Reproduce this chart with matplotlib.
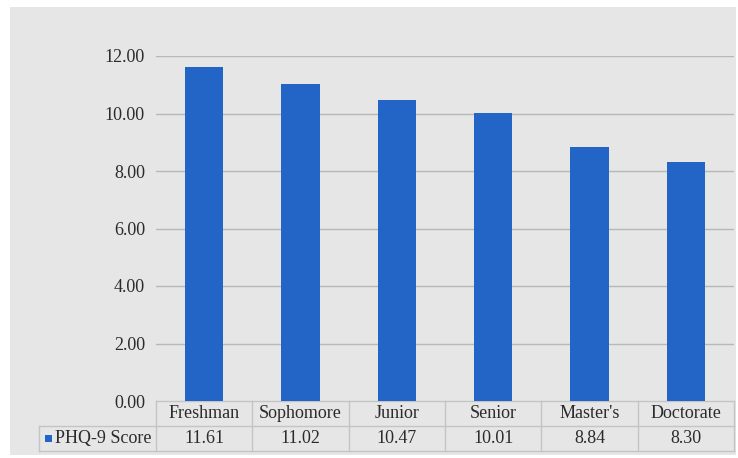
import matplotlib.pyplot as plt
from matplotlib.patches import Rectangle
from matplotlib.transforms import blended_transform_factory

levels = ["Freshman", "Sophomore", "Junior", "Senior", "Master's", "Doctorate"]
phq9 = [11.61, 11.02, 10.47, 10.01, 8.84, 8.30]
series_name = "PHQ-9 Score"
yticks = [0, 2, 4, 6, 8, 10, 12]

W, H = 738, 458
BLUE = "#2265c6"
GRID = "#b8b8b8"
LINE = "#c4c4c4"
TXT = "#2b2b2b"

plt.rcParams["font.family"] = "serif"
plt.rcParams["font.serif"] = ["Liberation Serif", "DejaVu Serif"]

fig = plt.figure(figsize=(W / 100, H / 100), dpi=100, facecolor="white")
# grey chart area
fig.patches.append(Rectangle((10 / W, 3 / H), 726 / W, 448 / H, transform=fig.transFigure,
                             facecolor="#e6e6e6", edgecolor="none", zorder=-10))

left, right, top, bot = 156, 734, 56, 401
ax = fig.add_axes([left / W, 1 - bot / H, (right - left) / W, (bot - top) / H])
ax.set_facecolor("none")

x = list(range(len(levels)))
ax.bar(x, phq9, width=0.4, color=BLUE, zorder=3)
ax.set_xlim(-0.5, len(levels) - 0.5)
ax.set_ylim(0, 12)
ax.set_yticks(yticks)
ax.set_yticklabels([f"{v:.2f}" for v in yticks], fontsize=13, color=TXT)
ax.tick_params(axis="y", length=0, pad=8)
ax.set_xticks([])
for v in yticks[1:]:
    ax.axhline(v, color=GRID, lw=1.0, zorder=1)
for s in ax.spines.values():
    s.set_visible(False)

# data table under the plot
tr = blended_transform_factory(ax.transData, ax.transAxes)
row = 25 / (bot - top)
xl = -0.5 - (left - 39) / ((right - left) / len(levels))
kw = dict(color=LINE, lw=1.0, transform=tr, clip_on=False)
ax.plot([-0.5, len(levels) - 0.5], [0, 0], **kw)
ax.plot([xl, len(levels) - 0.5], [-row, -row], **kw)
ax.plot([xl, len(levels) - 0.5], [-2 * row, -2 * row], **kw)
ax.plot([xl, xl], [-row, -2 * row], **kw)
for i in range(len(levels) + 1):
    ax.plot([i - 0.5, i - 0.5], [0, -2 * row], **kw)

for i, (lab, v) in enumerate(zip(levels, phq9)):
    ax.text(i, -row / 2, lab, transform=tr, ha="center", va="center",
            fontsize=13, color=TXT, clip_on=False)
    ax.text(i, -1.5 * row, f"{v:.2f}", transform=tr, ha="center", va="center",
            fontsize=13, color=TXT, clip_on=False)

fig.patches.append(Rectangle((45 / W, 1 - 442 / H), 7 / W, 7 / H, transform=fig.transFigure,
                             facecolor=BLUE, edgecolor="none", zorder=5))
fig.text(55 / W, 1 - 438.5 / H, series_name, ha="left", va="center", fontsize=13, color=TXT)

fig.savefig("out.png", dpi=100, facecolor="white")
